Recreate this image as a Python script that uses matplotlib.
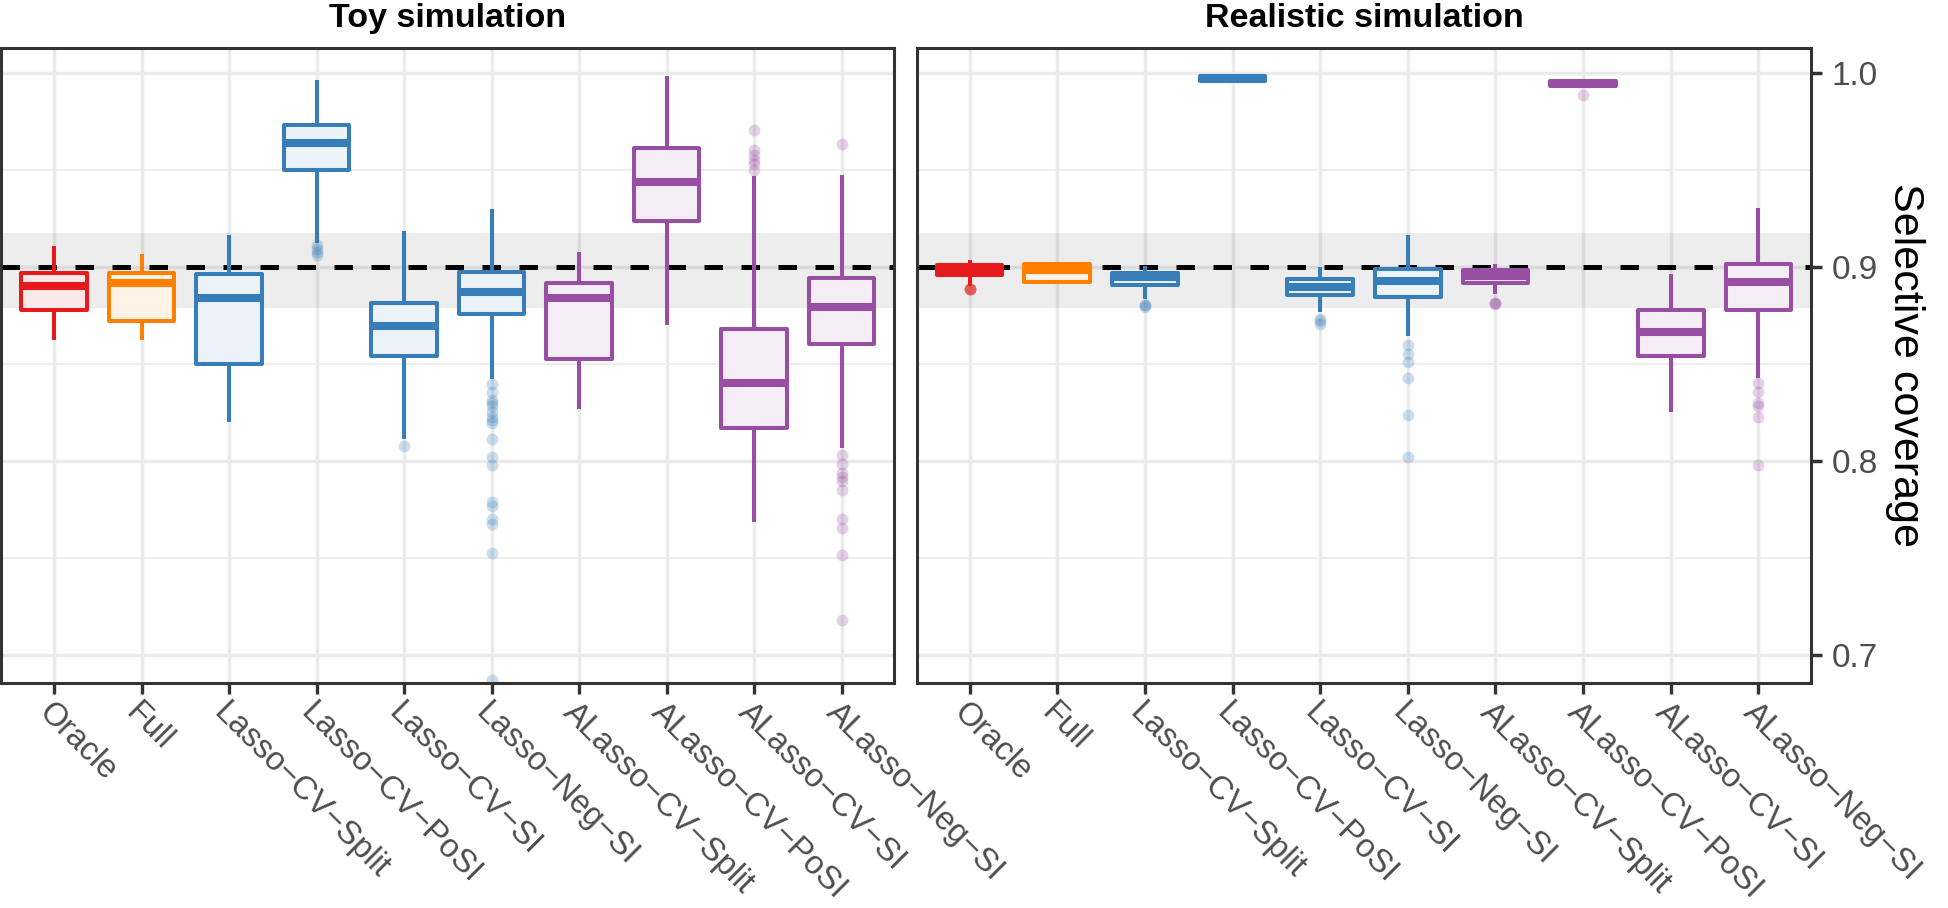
import matplotlib
matplotlib.use("Agg")
import matplotlib.pyplot as plt
import matplotlib.transforms as mtransforms
import numpy as np

plt.rcParams["font.family"] = ["Liberation Sans", "DejaVu Sans"]

# ── 1. Data ──────────────────────────────────────────────────────────────────
methods = ["Oracle", "Full", "Lasso−CV−Split", "Lasso−CV−PoSI", "Lasso−CV−SI",
           "Lasso−Neg−SI", "ALasso−CV−Split", "ALasso−CV−PoSI", "ALasso−CV−SI",
           "ALasso−Neg−SI"]
method_group = ["oracle", "full", "lasso", "lasso", "lasso", "lasso",
                "alasso", "alasso", "alasso", "alasso"]

# toy simulation
toy_whislo = [0.8625, 0.8625, 0.8201, 0.9127, 0.8114, 0.8424, 0.8268, 0.8700, 0.7688, 0.8067]
toy_q1     = [0.8781, 0.8720, 0.8500, 0.9500, 0.8543, 0.8761, 0.8526, 0.9236, 0.8170, 0.8605]
toy_med    = [0.8904, 0.8918, 0.8839, 0.9638, 0.8698, 0.8873, 0.8839, 0.9437, 0.8401, 0.8793]
toy_q3     = [0.8972, 0.8972, 0.8967, 0.9733, 0.8817, 0.8974, 0.8916, 0.9614, 0.8679, 0.8946]
toy_whishi = [0.9110, 0.9067, 0.9168, 0.9967, 0.9189, 0.9300, 0.9076, 0.9985, 0.9472, 0.9477]
toy_fliers = [
    [], [], [],
    [0.9115, 0.9095, 0.9080, 0.9065],
    [0.8080],
    [0.8397, 0.8355, 0.8316, 0.8298, 0.8286, 0.8252, 0.8229, 0.8213, 0.8194,
     0.8114, 0.8021, 0.7982, 0.7791, 0.7768, 0.7699, 0.7676, 0.7526, 0.6870],
    [], [],
    [0.9709, 0.9603, 0.9576, 0.9553, 0.9534, 0.9500],
    [0.9633, 0.8033, 0.7987, 0.7941, 0.7918, 0.7895, 0.7849, 0.7699, 0.7653,
     0.7515, 0.7180],
]

# realistic simulation
real_whislo = [0.8905, 0.8925, 0.8835, 0.9950, 0.8770, 0.8643, 0.8862, 0.9925, 0.8252, 0.8429]
real_q1     = [0.8958, 0.8925, 0.8908, 0.9962, 0.8855, 0.8845, 0.8920, 0.9932, 0.8541, 0.8779]
real_med    = [0.8988, 0.8985, 0.8948, 0.9975, 0.8900, 0.8931, 0.8954, 0.9945, 0.8666, 0.8926]
real_q3     = [0.9013, 0.9017, 0.8970, 0.9985, 0.8940, 0.8990, 0.8983, 0.9960, 0.8780, 0.9018]
real_whishi = [0.9038, 0.9024, 0.9007, 0.9995, 0.9000, 0.9168, 0.9018, 0.9972, 0.8965, 0.9306]
real_fliers = [
    [0.8885, 0.8885, 0.8885, 0.8885],
    [],
    [0.8806, 0.8806, 0.8793],
    [],
    [0.8735, 0.8720, 0.8705],
    [0.8597, 0.8550, 0.8512, 0.8429, 0.8236, 0.8021],
    [0.8816, 0.8816, 0.8810],
    [0.9888],
    [],
    [0.8401, 0.8355, 0.8298, 0.8286, 0.8229, 0.7982],
]

target = 0.9
band_lo, band_hi = 0.8789, 0.9178

# ── 2. Style ─────────────────────────────────────────────────────────────────
group_colors = {"oracle": "#E41A1C", "full": "#FF7F00",
                "lasso": "#377EB8", "alasso": "#984EA3"}
XTICK_SIZE = 23.5
YTICK_SIZE = 24


def light(hex_color, a=0.1):
    rgb = np.array(matplotlib.colors.to_rgb(hex_color))
    return tuple(a * rgb + (1 - a) * 1.0)


def panel(ax, whislo, q1, med, q3, whishi, fliers, title):
    pos = np.arange(1, len(methods) + 1)
    stats = []
    for i in range(len(methods)):
        stats.append(dict(whislo=whislo[i], q1=q1[i], med=med[i], q3=q3[i],
                          whishi=whishi[i], fliers=np.array(fliers[i])))

    # grid, band, reference line
    for y in [0.7, 0.8, 0.9, 1.0]:
        ax.axhline(y, color="#EBEBEB", lw=2.5, zorder=0)
    for y in [0.75, 0.85, 0.95]:
        ax.axhline(y, color="#EBEBEB", lw=1.2, zorder=0)
    for x in pos:
        ax.axvline(x, color="#EBEBEB", lw=2.5, zorder=0)
    ax.axhspan(band_lo, band_hi, color="black", alpha=0.07, lw=0, zorder=1)
    ax.axhline(target, color="black", lw=3.6, dashes=(3.7, 3.7), zorder=2)

    bp = ax.bxp(stats, positions=pos, widths=0.75, patch_artist=True,
                showcaps=False, showfliers=True,
                boxprops=dict(linewidth=2.9, joinstyle="round"),
                whiskerprops=dict(linewidth=2.9, solid_capstyle="butt"),
                medianprops=dict(linewidth=5.8, solid_capstyle="butt"),
                flierprops=dict(marker="o", markersize=8.5, alpha=0.25,
                                markeredgewidth=0, linestyle="none"),
                zorder=3)
    for i, g in enumerate(method_group):
        c = group_colors[g]
        bp["boxes"][i].set_facecolor(light(c))
        bp["boxes"][i].set_edgecolor(c)
        bp["medians"][i].set_color(c)
        bp["whiskers"][2 * i].set_color(c)
        bp["whiskers"][2 * i + 1].set_color(c)
        bp["fliers"][i].set_markerfacecolor(c)

    ax.set_xlim(0.4, len(methods) + 0.6)
    ax.set_ylim(0.6856, 1.0130)
    ax.set_xticks(pos)
    ax.set_xticklabels(methods, rotation=-45, ha="left", va="top",
                       rotation_mode="anchor", fontsize=XTICK_SIZE,
                       color="#4D4D4D")
    shift = mtransforms.ScaledTranslation(3 / 100, 0, ax.figure.dpi_scale_trans)
    for lab in ax.get_xticklabels():
        lab.set_transform(lab.get_transform() + shift)
    ax.tick_params(axis="x", length=8, width=2.4, color="#333333", pad=2)
    for s in ax.spines.values():
        s.set_color("#333333")
        s.set_linewidth(2.2)
        s.set_zorder(5)
    ax.set_title(title, fontsize=24.5, fontweight="bold", pad=15)


# ── 3. Figure ────────────────────────────────────────────────────────────────
W, H = 1949, 908
fig = plt.figure(figsize=(W / 100, H / 100), dpi=100)
ax1 = fig.add_axes([1.5 / W, 225 / H, 892.5 / W, 635 / H])
ax2 = fig.add_axes([917 / W, 225 / H, 894 / W, 635 / H])

panel(ax1, toy_whislo, toy_q1, toy_med, toy_q3, toy_whishi, toy_fliers,
      "Toy simulation")
panel(ax2, real_whislo, real_q1, real_med, real_q3, real_whishi, real_fliers,
      "Realistic simulation")

ax1.set_yticks([0.7, 0.8, 0.9, 1.0])
ax1.tick_params(axis="y", left=False, labelleft=False)

ax2.set_yticks([0.7, 0.8, 0.9, 1.0])
ax2.set_yticklabels(["0.7", "0.8", "0.9", "1.0"])
ax2.yaxis.tick_right()
ax2.tick_params(axis="y", length=8, width=2.5, color="#333333", pad=7,
                labelsize=YTICK_SIZE, labelcolor="#4D4D4D")

fig.text(1905 / W, 1 - 365 / H, "Selective coverage", rotation=270,
         ha="center", va="center", fontsize=31, color="black")

fig.savefig("out.png", dpi=100)
